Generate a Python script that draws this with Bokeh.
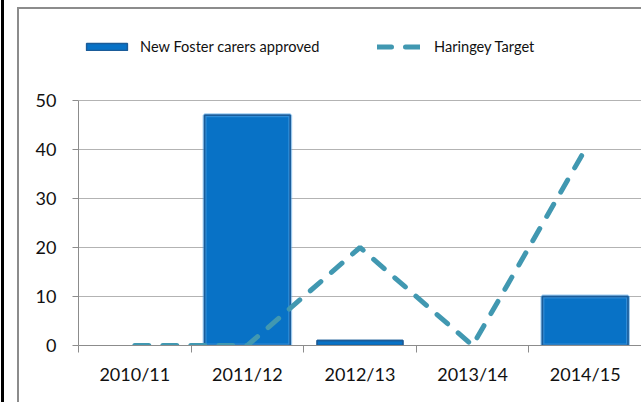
from bokeh.plotting import figure
from bokeh.layouts import column
from bokeh.models import (ColumnDataSource, FixedTicker, Legend, LegendItem, Range1d,
                          CDSView, BooleanFilter)
from bokeh.embed import file_html
from bokeh.resources import INLINE

categories = ["2010/11", "2011/12", "2012/13", "2013/14", "2014/15"]
approved = [0, 47, 1, 0, 10]
target = [0, 0, 20, 0, 40]
y_ticks = [0, 10, 20, 30, 40, 50]

xs = [i + 0.5 for i in range(len(categories))]
src = ColumnDataSource(dict(x=xs, approved=approved, target=target))
nonzero = CDSView(filter=BooleanFilter([v > 0 for v in approved]))
bevel = CDSView(filter=BooleanFilter([v > 3 for v in approved]))

FONT = "Lato"
Y_TOP = 50 * 314 / 245  # extra room above the axis for the legend

p = figure(width=624, height=395, output_backend="svg", toolbar_location=None,
           x_range=Range1d(0, len(categories)), y_range=Range1d(0, Y_TOP),
           min_border_left=59, min_border_right=2, min_border_top=22,
           min_border_bottom=59)
p.margin = (7, 0, 0, 13)
p.styles = {"border-top": "2px solid #8c8c8c", "border-left": "2px solid #8c8c8c"}
p.outline_line_color = None
p.background_fill_color = "white"
p.border_fill_color = "white"

# shadow
p.vbar(x="x", top="approved", bottom=-0.6, width=0.78, source=src, view=nonzero,
       fill_color="#000000", fill_alpha=0.10, line_color=None)
bars = p.vbar(x="x", top="approved", width=0.76, source=src, view=nonzero,
              fill_color="#0872C6", line_color="#1B5C99", line_width=1.5)
# bevel highlight
p.vbar(x="x", top="approved", width=0.76, source=src, view=bevel,
       fill_color=None, line_color="#4FA3E6", line_alpha=0.55, line_width=4)
p.vbar(x="x", top="approved", width=0.76, source=src, view=nonzero,
       fill_color=None, line_color="#1B5C99", line_width=1.5)
line = p.line(x="x", y="target", source=src, line_color="#4198B1", line_width=5,
              line_dash="14 14", line_cap="round")

p.xgrid.visible = False
p.ygrid.ticker = FixedTicker(ticks=y_ticks)
p.ygrid.grid_line_color = "#b3b3b3"
p.ygrid.grid_line_width = 1

p.yaxis.ticker = FixedTicker(ticks=y_ticks)
p.yaxis.bounds = (0, 50)
p.yaxis.axis_line_color = "#8c8c8c"
p.yaxis.major_tick_line_color = "#8c8c8c"
p.yaxis.major_tick_out = 6
p.yaxis.major_tick_in = 0
p.yaxis.minor_tick_line_color = None
p.yaxis.major_label_text_font = FONT
p.yaxis.major_label_text_font_size = "18px"
p.yaxis.major_label_text_color = "#111111"
p.yaxis.major_label_standoff = 16

p.xaxis.ticker = FixedTicker(ticks=xs, minor_ticks=list(range(len(categories) + 1)))
p.xaxis.major_label_overrides = {x: c for x, c in zip(xs, categories)}
p.xaxis.axis_line_color = "#8c8c8c"
p.xaxis.major_tick_line_color = None
p.xaxis.minor_tick_line_color = "#8c8c8c"
p.xaxis.minor_tick_out = 7
p.xaxis.minor_tick_in = 0
p.xaxis.major_label_text_font = FONT
p.xaxis.major_label_text_font_size = "18px"
p.xaxis.major_label_text_color = "#111111"
p.xaxis.major_label_standoff = 10

leg1 = Legend(items=[LegendItem(label="New Foster carers approved", renderers=[bars])],
              location=(3, 290), glyph_width=51, glyph_height=9, label_standoff=8,
              padding=0, margin=0, border_line_color=None, background_fill_alpha=0,
              label_text_font=FONT, label_text_font_size="14.6px", label_text_color="#111111")
leg2 = Legend(items=[LegendItem(label="Haringey Target", renderers=[line])],
              location=(299, 290), glyph_width=43, glyph_height=9, label_standoff=14,
              padding=0, margin=0, border_line_color=None, background_fill_alpha=0,
              label_text_font=FONT, label_text_font_size="14.6px", label_text_color="#111111")
p.add_layout(leg1, "center")
p.add_layout(leg2, "center")

page = column(p)
page.margin = (0, 0, 0, 1)
page.styles = {"border-left": "3px solid #000000"}

open("out.html", "w").write(file_html(page, INLINE))
